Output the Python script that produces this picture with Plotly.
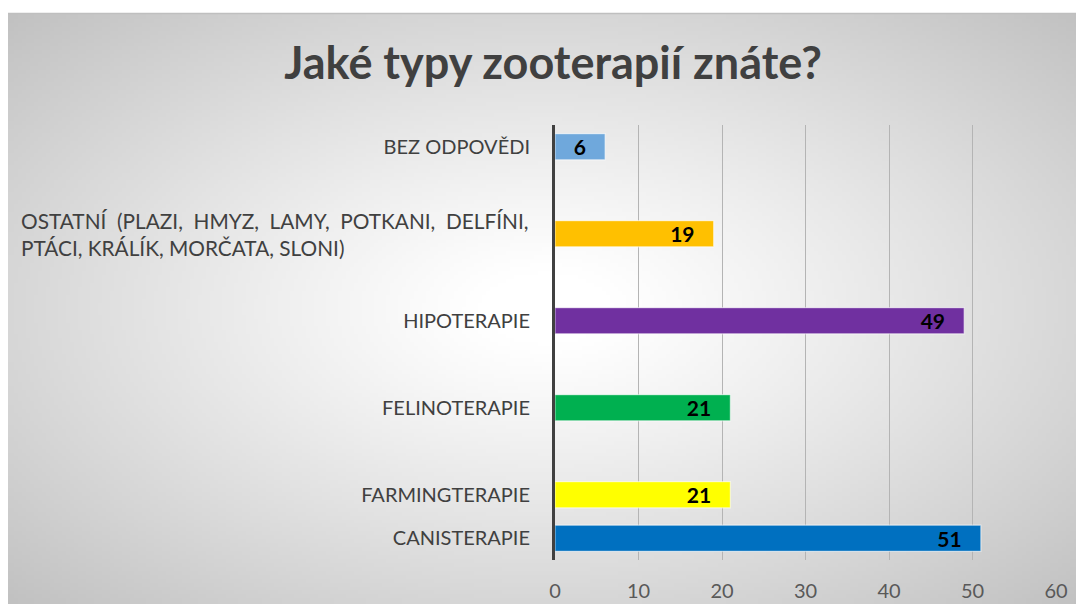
import zlib, struct, base64, math
import plotly.graph_objects as go

# ---- data ----
categories = ["CANISTERAPIE", "FARMINGTERAPIE", " ", "FELINOTERAPIE", "  ", "HIPOTERAPIE",
              "   ", "OSTATNÍ", "    ", "BEZ ODPOVĚDI"]
values = [51, 21, None, 21, None, 49, None, 19, None, 6]
colors = ["#0070C0", "#FFFF00", "#FFFFFF", "#00B050", "#FFFFFF", "#7030A0",
          "#FFFFFF", "#FFC000", "#FFFFFF", "#6FA8DC"]
tick_labels = ["CANISTERAPIE", "FARMINGTERAPIE", "", "FELINOTERAPIE", "", "HIPOTERAPIE",
               "", "", "", "BEZ ODPOVĚDI"]
ostatni_label = "OSTATNÍ  (PLAZI,  HMYZ,  LAMY,  POTKANI,  DELFÍNI,<br>PTÁCI, KRÁLÍK, MORČATA, SLONI)"
x_ticks = [0, 10, 20, 30, 40, 50, 60]
title = "Jaké typy zooterapií znáte?"

FONT = "Lato"

# ---- radial gradient background image (pure python PNG) ----
W, H = 269, 150
cx, cy = 0.50, 0.50
rows = []
for j in range(H):
    row = bytearray([0])
    for i in range(W):
        dx = (i / (W - 1) - cx) / 0.5
        dy = (j / (H - 1) - cy) / 0.5
        r = math.sqrt(dx * dx + dy * dy) / math.sqrt(2)
        t = max(0.0, (r - 0.08) / 0.92)
        v = int(round(255 - 62 * (t ** 1.1)))
        row += bytes([v, v, v])
    rows.append(bytes(row))
raw = b"".join(rows)

def chunk(tag, data):
    c = struct.pack(">I", len(data)) + tag + data
    return c + struct.pack(">I", zlib.crc32(tag + data) & 0xffffffff)

png = b"\x89PNG\r\n\x1a\n" + chunk(b"IHDR", struct.pack(">IIBBBBB", W, H, 8, 2, 0, 0, 0)) \
      + chunk(b"IDAT", zlib.compress(raw, 9)) + chunk(b"IEND", b"")
img_src = "data:image/png;base64," + base64.b64encode(png).decode()

# layout geometry (figure coords; page body adds an 8px offset)
FW, FH = 1076, 596
L, R, T, B = 547, 28, 117, 44
pw, ph = FW - L - R, FH - T - B

def px_to_paper_x(px):
    return (px - L) / pw

def px_to_paper_y(py):
    return (FH - B - py) / ph

fig = go.Figure()
fig.add_trace(go.Bar(
    y=categories, x=values, orientation="h",
    marker=dict(color=colors, line=dict(color="rgba(255,255,255,0.55)", width=1.2)),
    text=[("<b>%d</b>" % v) if v is not None else "" for v in values],
    texttemplate="%{text}\u00a0\u00a0\u00a0",
    textposition="inside", insidetextanchor="end", constraintext="none", textangle=0,
    textfont=dict(family=FONT, size=21, color="#000000"),
    hoverinfo="skip", showlegend=False,
))

fig.add_annotation(
    x=0, y="OSTATNÍ", xref="paper", yref="y", xanchor="right", yanchor="middle",
    xshift=-25, text=ostatni_label, showarrow=False, align="left",
    font=dict(family=FONT, size=20.8, color="#404040"),
)

fig.add_layout_image(dict(
    source=img_src, xref="paper", yref="paper",
    x=px_to_paper_x(0), y=px_to_paper_y(5),
    sizex=FW / pw, sizey=(FH - 5) / ph,
    sizing="stretch", xanchor="left", yanchor="top", layer="below",
))
fig.add_shape(type="line", xref="paper", yref="paper",
              x0=px_to_paper_x(0), x1=px_to_paper_x(FW), y0=px_to_paper_y(5.5), y1=px_to_paper_y(5.5),
              line=dict(color="#BFBFBF", width=1.5))

fig.update_layout(
    width=FW, height=FH,
    margin=dict(l=L, r=R, t=T, b=B),
    paper_bgcolor="white", plot_bgcolor="rgba(0,0,0,0)",
    bargap=0.4,
    title=dict(text="<b>" + title + "</b>", x=(553 - 8) / FW, xanchor="center", y=1 - 55 / FH, yanchor="middle",
               xref="container", yref="container",
               font=dict(family=FONT, size=45, color="#404040")),
    xaxis=dict(range=[0, 60], tickvals=x_ticks, showgrid=True, gridcolor="#B4B4B4", gridwidth=1,
               zeroline=False, showline=False, ticks="outside", ticklen=13, automargin=False,
               tickcolor="rgba(0,0,0,0)", tickfont=dict(family=FONT, size=20, color="#595959"),
               fixedrange=True),
    yaxis=dict(categoryorder="array", categoryarray=categories, tickmode="array",
               tickvals=categories, ticktext=tick_labels, showline=True, linecolor="#404040",
               linewidth=3, ticks="outside", ticklen=18, tickcolor="rgba(0,0,0,0)",
               tickfont=dict(family=FONT, size=20, color="#404040"), showgrid=False,
               automargin=False, fixedrange=True),
)

fig.write_html("out.html")
